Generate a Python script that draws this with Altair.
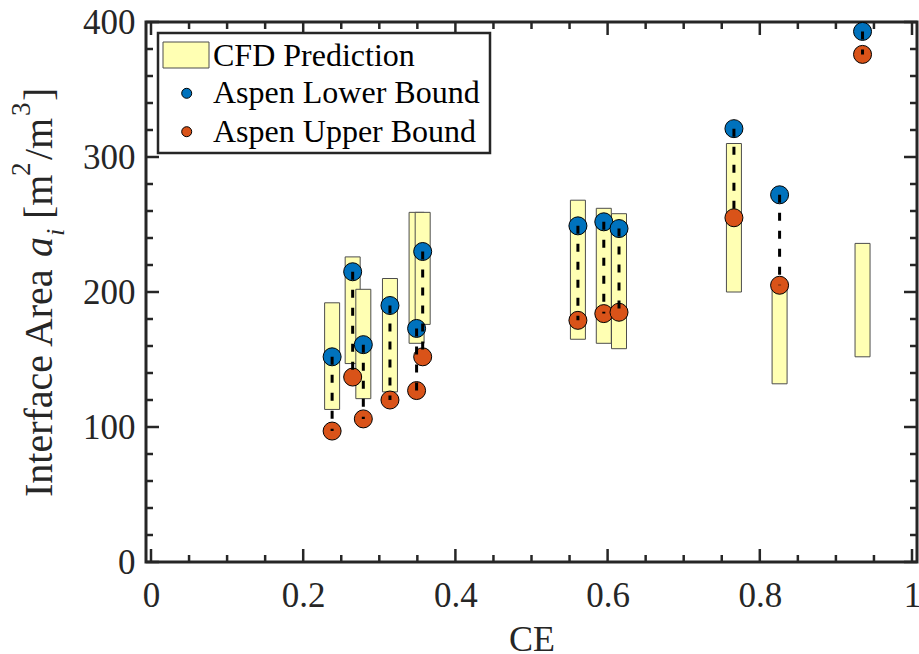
import altair as alt
import pandas as pd

# --- data -------------------------------------------------------------
ce = [0.238, 0.265, 0.279, 0.314, 0.349, 0.357, 0.561, 0.595, 0.615, 0.766, 0.826, 0.935]
aspen_lower = [152, 215, 161, 190, 173, 230, 249, 252, 247, 321, 272, 393]
aspen_upper = [97, 137, 106, 120, 127, 152, 179, 184, 185, 255, 205, 376]
cfd_low = [113, 147, 121, 126, 162, 176, 165, 162, 158, 200, 132, 152]
cfd_high = [192, 226, 202, 210, 259, 259, 268, 262, 258, 310, 207, 236]

x_major = [0, 0.2, 0.4, 0.6, 0.8, 1.0]
x_minor = [0.05, 0.1, 0.15, 0.25, 0.3, 0.35, 0.45, 0.5, 0.55, 0.65, 0.7, 0.75, 0.85, 0.9, 0.95]
y_major = [0, 100, 200, 300, 400]
y_minor = [20, 40, 60, 80, 120, 140, 160, 180, 220, 240, 260, 280, 320, 340, 360, 380]

legend_labels = ["CFD Prediction", "Aspen Lower Bound", "Aspen Upper Bound"]

# --- style ------------------------------------------------------------
FONT = "Liberation Serif"
TXT = "#262626"
AX = "#262626"
BLUE = "#0072BD"
ORANGE = "#D95319"
YELLOW = "#FFFFB3"
W, H = 771, 540
MAJ, MIN = 13, 7

df = pd.DataFrame({"CE": ce, "lower": aspen_lower, "upper": aspen_upper,
                   "lo": cfd_low, "hi": cfd_high})

x_scale = alt.Scale(domain=[0, 1], nice=False, zero=False)
y_scale = alt.Scale(domain=[0, 400], nice=False, zero=False)

x_axis = alt.Axis(values=x_major, format="~g", title="CE", ticks=False, tickSize=0,
                  domain=False, grid=False, labelFont=FONT, labelFontSize=35,
                  labelColor=TXT, labelPadding=16, labelFlush=False, labelOverlap=False,
                  titleFont=FONT, titleFontSize=36, titleFontWeight="normal",
                  titleColor=TXT, titleY=88, titleBaseline="alphabetic")
y_axis = alt.Axis(values=y_major, title=None, ticks=False, tickSize=0, domain=False,
                  grid=False, labelFont=FONT, labelFontSize=35, labelColor=TXT,
                  labelPadding=11, labelFlush=False, labelOverlap=False)

X = alt.X("CE:Q", scale=x_scale, axis=x_axis)

base = alt.Chart(df)

bars = base.mark_bar(size=15, fill=YELLOW, stroke="#4d4d4d", strokeWidth=1).encode(
    x=X,
    y=alt.Y("lo:Q", scale=y_scale, axis=y_axis),
    y2="hi:Q",
)

lower_pts = base.mark_circle(size=324, color=BLUE, stroke="black", strokeWidth=1,
                             opacity=1).encode(
    x=X, y=alt.Y("lower:Q", scale=y_scale, axis=y_axis))
upper_pts = base.mark_circle(size=324, color=ORANGE, stroke="black", strokeWidth=1,
                             opacity=1).encode(
    x=X, y=alt.Y("upper:Q", scale=y_scale, axis=y_axis))
links = base.mark_rule(color="black", strokeWidth=3, strokeDash=[8, 10]).encode(
    x=X, y=alt.Y("lower:Q", scale=y_scale, axis=y_axis), y2="upper:Q")

# --- inward ticks on all four sides ----------------------------------
ticks = []
for vals, length in ((x_major, MAJ), (x_minor, MIN)):
    tdf = pd.DataFrame({"CE": vals})
    for y0, y1 in ((H, H - length), (0, length)):
        ticks.append(alt.Chart(tdf).mark_rule(color=AX, strokeWidth=2.5).encode(
            x=X, y=alt.value(y0), y2=alt.value(y1)))
for vals, length in ((y_major, MAJ), (y_minor, MIN)):
    tdf = pd.DataFrame({"lo": vals})
    for x0, x1 in ((0, length), (W, W - length)):
        ticks.append(alt.Chart(tdf).mark_rule(color=AX, strokeWidth=2.5).encode(
            y=alt.Y("lo:Q", scale=y_scale, axis=y_axis),
            x=alt.value(x0), x2=alt.value(x1)))

# --- legend box -------------------------------------------------------
one = pd.DataFrame({"k": [0]})
leg = [
    alt.Chart(one).mark_rect(fill="white", stroke=AX, strokeWidth=2.5).encode(
        x=alt.value(12), x2=alt.value(344), y=alt.value(11), y2=alt.value(131)),
    alt.Chart(one).mark_rect(fill=YELLOW, stroke="#4d4d4d", strokeWidth=1).encode(
        x=alt.value(17), x2=alt.value(63), y=alt.value(20), y2=alt.value(46)),
    alt.Chart(one).mark_circle(size=100, color=BLUE, stroke="black", strokeWidth=1,
                               opacity=1).encode(x=alt.value(40.7), y=alt.value(71.3)),
    alt.Chart(one).mark_circle(size=100, color=ORANGE, stroke="black", strokeWidth=1,
                               opacity=1).encode(x=alt.value(40.7), y=alt.value(109.7)),
]
for lab, yb in zip(legend_labels, (44, 81.3, 119.7)):
    leg.append(alt.Chart(pd.DataFrame({"t": [lab]})).mark_text(
        font=FONT, fontSize=32, color="black", align="left", baseline="alphabetic"
    ).encode(text="t:N", x=alt.value(67), y=alt.value(yb)))

# --- rotated y title: Interface Area a_i [m^2/m^3] --------------------
title_parts = [
    # text, size, style, baseline x, start y
    ("Interface Area", 40, "normal", -94, 475),
    ("a", 40, "italic", -94, 235),
    ("i", 26, "italic", -82, 214),
    ("[m", 40, "normal", -94, 197),
    ("2", 27, "normal", -116, 154),
    ("/m", 40, "normal", -94, 138),
    ("3", 27, "normal", -116, 94),
    ("]", 40, "normal", -94, 79),
]
ytitle = []
for txt, fs, style, bx, sy in title_parts:
    ytitle.append(alt.Chart(pd.DataFrame({"t": [txt]})).mark_text(
        font=FONT, fontSize=fs, fontStyle=style, color=TXT, angle=270,
        align="left", baseline="alphabetic"
    ).encode(text="t:N", x=alt.value(bx), y=alt.value(sy)))

chart = alt.layer(bars, lower_pts, upper_pts, links, *ticks, *leg, *ytitle).properties(
    width=W, height=H,
    autosize=alt.AutoSizeParams(type="none"),
    padding={"left": 146, "top": 22, "right": 2, "bottom": 92},
    background="white",
).configure_view(stroke=AX, strokeWidth=3)

chart.save("out.html", embed_options={"renderer": "svg", "actions": False})
